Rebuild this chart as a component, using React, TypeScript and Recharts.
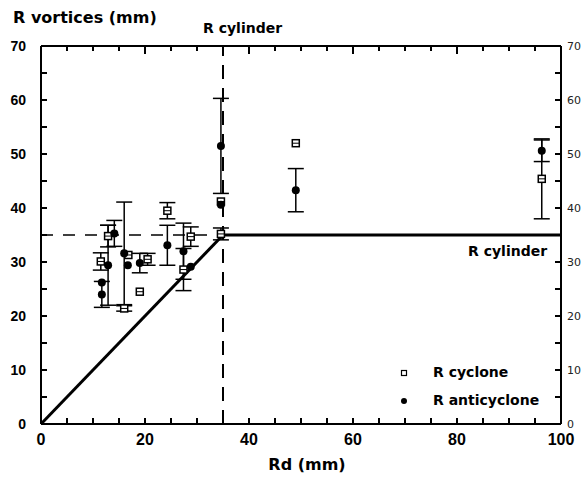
import React from 'react';
import { ComposedChart, Scatter, XAxis, YAxis, ErrorBar, ReferenceLine } from 'recharts';

/* ── Data ─────────────────────────────────────────── */
const cycloneRd = [11.5, 12.9, 16.0, 16.8, 19.0, 20.5, 24.3, 27.4, 28.8, 34.6, 34.6, 49.0, 96.3];
const cycloneR = [30.1, 34.8, 21.4, 31.3, 24.5, 30.5, 39.5, 28.6, 34.7, 35.2, 41.2, 52.0, 45.4];
const cycloneErr = [1.6, 2.0, 0.5, null, null, 1.1, 1.5, 3.9, 1.8, 1.1, null, null, 7.4];

const anticycloneRd = [11.7, 11.7, 12.9, 14.1, 16.0, 16.7, 19.0, 24.3, 27.4, 28.8, 34.6, 34.6, 49.0, 96.3];
const anticycloneR = [26.2, 24.0, 29.4, 35.3, 31.6, 29.4, 29.8, 33.1, 32.0, 29.1, 40.6, 51.5, 43.3, 50.6];
const anticycloneErr = [null, 2.4, 7.4, 2.4, 9.5, null, 1.8, 3.7, 5.2, null, null, 8.8, 4.0, 2.0];

const R_CYL = 35;
const slopeLine = [{ x: 0, y: 0 }, { x: R_CYL, y: R_CYL }];
const flatLine = [{ x: R_CYL, y: R_CYL }, { x: 100, y: R_CYL }];
const dashLine = [{ x: 0, y: R_CYL }, { x: R_CYL, y: R_CYL }];

const xTicks = [0, 5, 10, 15, 20, 25, 30, 35, 40, 45, 50, 55, 60, 65, 70, 75, 80, 85, 90, 95, 100];
const yTicks = [0, 5, 10, 15, 20, 25, 30, 35, 40, 45, 50, 55, 60, 65, 70];

const cyclones = cycloneRd.map((x, i) => ({ x, y: cycloneR[i], err: cycloneErr[i] }));
const anticyclones = anticycloneRd.map((x, i) => ({ x, y: anticycloneR[i], err: anticycloneErr[i] }));

/* ── Styles ───────────────────────────────────────── */
const W = 584;
const H = 478;
const INK = '#000';
const NUM_FONT = '"Liberation Sans", Arial, sans-serif';
const TXT_FONT = '"DejaVu Sans", sans-serif';
const axisLine = { stroke: INK, strokeWidth: 2 };
const tickLine = { stroke: INK, strokeWidth: 2 };
const TICK = -6; // negative size: tick lines point into the plot

const X_MAX = 100;
const Y_MAX = 70;
const xMajor = (v: number) => v % 20 === 0;
const yMajor = (v: number) => v % 10 === 0;

// the top edge has no axis of its own: frame line + small inward marks
const topMarks = xTicks.slice(1, -1).map((v) => ({ x: v, y: Y_MAX, m: xMajor(v) }));
const DownMark = (p: any) => {
    const l = (p.payload ? p.payload.m : p.m) ? 8 : 5;
    return <rect x={p.cx - 1} y={p.cy} width={2} height={l} fill={INK} />;
};

/* ── Tick labels ──────────────────────────────────── */
const LeftLabel = (props: any) => {
    const x = Number(props.x);
    const y = Number(props.y);
    const v = props.payload.value;
    if (!yMajor(v)) return <g />;
    return (
        <text x={x - 15} y={y + 5} textAnchor="end" fontFamily={NUM_FONT} fontWeight="bold" fontSize={14} fill={INK}>
            {v}
        </text>
    );
};

const RightLabel = (props: any) => {
    const x = Number(props.x);
    const y = Number(props.y);
    const v = props.payload.value;
    if (!yMajor(v)) return <g />;
    return (
        <text x={x + 6} y={y + 4} textAnchor="start" fontFamily={TXT_FONT} fontSize={11} fill="#222">
            {v}
        </text>
    );
};

const BottomLabel = (props: any) => {
    const x = Number(props.x);
    const y = Number(props.y);
    const v = props.payload.value;
    if (!xMajor(v)) return <g />;
    return (
        <text x={x} y={y + 21} textAnchor="middle" fontFamily={NUM_FONT} fontWeight="bold" fontSize={16} fill={INK}>
            {v}
        </text>
    );
};

/* ── Markers ──────────────────────────────────────── */
const SquareMark = (props: any) => {
    const { cx, cy } = props;
    return (
        <g>
            <rect x={cx - 3.5} y={cy - 3.5} width={7} height={7} fill="#fff" stroke={INK} strokeWidth={1.5} />
            <rect x={cx - 3.5} y={cy - 0.5} width={7} height={1} fill={INK} />
        </g>
    );
};

const DotMark = (props: any) => {
    const { cx, cy } = props;
    return <circle cx={cx} cy={cy} r={4} fill={INK} />;
};

/* ── Chart ────────────────────────────────────────── */
const App: React.FC = () => (
    <div style={{ position: 'relative', width: W, height: H, background: '#fff' }}>
        <style>{'body{margin:0;background:#fff}'}</style>
        <ComposedChart width={W} height={H} margin={{ top: 46, right: 0, bottom: 24, left: 0 }}>
            <XAxis
                type="number"
                dataKey="x"
                domain={[0, X_MAX]}
                ticks={xTicks}
                interval={0}
                height={30}
                tickSize={TICK}
                tickMargin={-TICK}
                tickLine={tickLine}
                axisLine={axisLine}
                tick={<BottomLabel />}
            />
            <YAxis
                type="number"
                dataKey="y"
                domain={[0, Y_MAX]}
                ticks={yTicks}
                interval={0}
                width={41}
                tickSize={TICK}
                tickMargin={-TICK}
                tickLine={tickLine}
                axisLine={axisLine}
                tick={<LeftLabel />}
            />
            <YAxis
                yAxisId="r"
                orientation="right"
                type="number"
                dataKey="y"
                domain={[0, Y_MAX]}
                ticks={yTicks}
                interval={0}
                width={23}
                tickSize={TICK}
                tickMargin={-TICK}
                tickLine={tickLine}
                axisLine={axisLine}
                tick={<RightLabel />}
            />

            <ReferenceLine y={Y_MAX} stroke={INK} strokeWidth={2} />
            <Scatter data={topMarks} shape={<DownMark />} isAnimationActive={false} />

            <ReferenceLine x={R_CYL} stroke={INK} strokeWidth={2} strokeDasharray="14 9" />
            <ReferenceLine segment={dashLine} stroke={INK} strokeWidth={1.5} strokeDasharray="12 10" />
            <ReferenceLine segment={slopeLine} stroke={INK} strokeWidth={3} />
            <ReferenceLine segment={flatLine} stroke={INK} strokeWidth={3} />

            <Scatter data={cyclones} shape={<SquareMark />} isAnimationActive={false}>
                <ErrorBar dataKey="err" direction="y" width={8} stroke={INK} strokeWidth={1.5} />
            </Scatter>
            {/* same scale as the left axis; bound to the right one so that it draws */}
            <Scatter data={anticyclones} yAxisId="r" shape={<DotMark />} isAnimationActive={false}>
                <ErrorBar dataKey="err" direction="y" width={8} stroke={INK} strokeWidth={1.5} />
            </Scatter>
        </ComposedChart>

        <svg width={W} height={H} style={{ position: 'absolute', left: 0, top: 0, pointerEvents: 'none' }}>
            <g fontFamily={TXT_FONT} fontWeight="bold" fill={INK}>
                <text x={13} y={23} fontSize={16}>R vortices (mm)</text>
                <text x={203} y={33} fontSize={14}>R cylinder</text>
                <text x={468} y={256} fontSize={14}>R cylinder</text>
                <text x={307} y={470} fontSize={16} textAnchor="middle">Rd (mm)</text>
                <rect x={401.5} y={370.5} width={5} height={5} fill="#fff" stroke={INK} strokeWidth={1.2} />
                <text x={433} y={377} fontSize={14}>R cyclone</text>
                <circle cx={404} cy={401} r={3} fill={INK} />
                <text x={433} y={405} fontSize={14}>R anticyclone</text>
            </g>
        </svg>
    </div>
);

export default App;
